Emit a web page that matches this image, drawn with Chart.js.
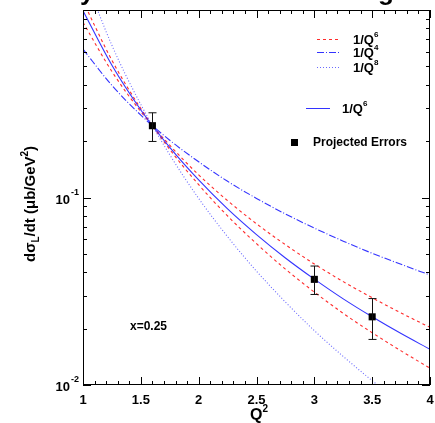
<!DOCTYPE html>
<html>
<head>
<meta charset="utf-8">
<script src="https://cdn.jsdelivr.net/npm/chart.js@4.4.1/dist/chart.umd.min.js"></script>
<style>
  html, body { margin: 0; padding: 0; background: #fff; overflow: hidden; }
  canvas { display: block; }
</style>
</head>
<body>
<canvas id="c" width="435" height="423"></canvas>
<script>
const q2 = [1, 1.25, 1.5, 1.75, 2, 2.25, 2.5, 2.75, 3, 3.25, 3.5, 3.75, 4]
const fitQ6 = [0.99, 0.507, 0.293, 0.185, 0.124, 0.0869, 0.0634, 0.0476, 0.0367, 0.0288, 0.0231, 0.0188, 0.0155]
const bandUp = [0.859, 0.470, 0.287, 0.190, 0.132, 0.0962, 0.0724, 0.0560, 0.0442, 0.0356, 0.0292, 0.0242, 0.0203]
const bandDown = [1.113, 0.539, 0.298, 0.1805, 0.117, 0.0797, 0.0567, 0.0415, 0.0313, 0.0241, 0.0190, 0.0152, 0.0123]
const curveQ4 = [0.618, 0.396, 0.275, 0.202, 0.155, 0.122, 0.0989, 0.0817, 0.0687, 0.0585, 0.0504, 0.0440, 0.0386]
const curveQ8 = [1.583, 0.648, 0.313, 0.169, 0.0989, 0.0618, 0.0405, 0.0277, 0.0195, 0.0142, 0.01055, 0.0080, 0.0062]

// projected points
const ptQ2 = [1.6, 3.0, 3.5]
const ptVal = [0.2415, 0.0366, 0.0231]
const ptLow = [0.199, 0.0304, 0.0175]
const ptHigh = [0.283, 0.0431, 0.0289]

const xTicks = [1, 1.5, 2, 2.5, 3, 3.5, 4]
const xTickLabels = ['1', '1.5', '2', '2.5', '3', '3.5', '4']
const yTicks = [0.01, 0.1]
const yTickExp = ['-2', '-1']

const FONT = "'Liberation Sans', Arial, sans-serif"
const RED = 'rgba(255,20,20,0.9)'
const BLUE = 'rgba(40,40,255,0.95)'
const BLUE_LIGHT = 'rgba(80,80,255,0.85)'

function pts(ys) {
    return q2.map((x, i) => ({ x: x, y: ys[i] }))
}

function runs(ctx, x, y, parts) {
    for (const p of parts) {
        ctx.font = 'bold ' + p.s + 'px ' + FONT
        ctx.fillText(p.t, x, y + (p.dy || 0))
        x += ctx.measureText(p.t).width
    }
}

const decor = {
    id: 'decor',
    afterDatasetsDraw(chart) {
        const ctx = chart.ctx
        const a = chart.chartArea
        const xs = chart.scales.x
        const ys = chart.scales.y
        ctx.save()

        // error bars
        ctx.strokeStyle = '#111'
        ctx.lineWidth = 1
        for (let i = 0; i < ptQ2.length; i++) {
            const px = Math.round(xs.getPixelForValue(ptQ2[i])) + 0.5
            const y1 = ys.getPixelForValue(ptLow[i])
            const y2 = ys.getPixelForValue(ptHigh[i])
            ctx.beginPath()
            ctx.moveTo(px, y1); ctx.lineTo(px, y2)
            ctx.moveTo(px - 4, y1); ctx.lineTo(px + 4, y1)
            ctx.moveTo(px - 4, y2); ctx.lineTo(px + 4, y2)
            ctx.stroke()
        }

        // frame
        ctx.strokeStyle = '#000'
        ctx.strokeRect(a.left + 0.5, a.top + 0.5, a.right - a.left - 1, a.bottom - a.top - 1)

        // x ticks (inside, top and bottom)
        ctx.beginPath()
        for (let v = 10; v <= 40; v++) {
            const px = Math.round(xs.getPixelForValue(v / 10)) + 0.5
            const len = v % 5 === 0 ? 8 : 4
            ctx.moveTo(px, a.bottom); ctx.lineTo(px, a.bottom - len)
            ctx.moveTo(px, a.top); ctx.lineTo(px, a.top + len)
        }
        // y ticks (log, inside, left and right)
        for (const dec of [0.01, 0.1]) {
            for (let k = 1; k <= 10; k++) {
                const py = Math.round(ys.getPixelForValue(dec * k)) + 0.5
                const len = (k === 1 || k === 10) ? 8 : 4
                ctx.moveTo(a.left, py); ctx.lineTo(a.left + len, py)
                ctx.moveTo(a.right, py); ctx.lineTo(a.right - len, py)
            }
        }
        ctx.stroke()

        ctx.fillStyle = '#000'
        ctx.textBaseline = 'alphabetic'

        // title, only its descenders show above the frame
        ctx.font = 'bold 26px ' + FONT
        ctx.textAlign = 'left'
        ctx.fillText('y', 80, 0)
        ctx.fillText('g', 378, 0)

        // x tick labels
        ctx.font = 'bold 13px ' + FONT
        ctx.textAlign = 'center'
        xTicks.forEach((v, i) => {
            ctx.fillText(xTickLabels[i], xs.getPixelForValue(v), 404)
        })
        // x title Q^2
        ctx.textAlign = 'left'
        runs(ctx, 250, 420, [{ t: 'Q', s: 16 }, { t: '2', s: 10, dy: -8 }])

        // y tick labels 10^-n
        yTicks.forEach((v, i) => {
            const py = ys.getPixelForValue(v)
            ctx.textAlign = 'right'
            ctx.font = 'bold 13px ' + FONT
            ctx.fillText('10', 70, py + 6)
            ctx.textAlign = 'left'
            ctx.font = 'bold 9px ' + FONT
            ctx.fillText(yTickExp[i], 71, py - 3)
        })

        // y title
        ctx.save()
        ctx.translate(35, 202)
        ctx.rotate(-Math.PI / 2)
        ctx.textAlign = 'left'
        runs(ctx, -60, 0, [
            { t: 'dσ', s: 15 }, { t: 'L', s: 10, dy: 4 },
            { t: '/dt (μb/GeV', s: 15 }, { t: '2', s: 10, dy: -7 }, { t: ')', s: 15 }
        ])
        ctx.restore()

        // legend
        ctx.textAlign = 'left'
        const leg = [
            { y: 39, col: RED, dash: [3, 3], p: '6' },
            { y: 52, col: BLUE, dash: [7, 2, 1, 2], p: '4' },
            { y: 67, col: BLUE_LIGHT, dash: [1, 2], p: '8' }
        ]
        for (const l of leg) {
            ctx.strokeStyle = l.col
            ctx.setLineDash(l.dash)
            ctx.beginPath(); ctx.moveTo(317, l.y + 0.5); ctx.lineTo(341, l.y + 0.5); ctx.stroke()
            ctx.setLineDash([])
            runs(ctx, 353, l.y + 5, [{ t: '1/Q', s: 13 }, { t: l.p, s: 8, dy: -7 }])
        }
        ctx.strokeStyle = BLUE
        ctx.beginPath(); ctx.moveTo(306, 108.5); ctx.lineTo(330, 108.5); ctx.stroke()
        runs(ctx, 342, 113, [{ t: '1/Q', s: 13 }, { t: '6', s: 8, dy: -7 }])
        ctx.fillRect(291, 139, 7, 7)
        ctx.font = 'bold 12px ' + FONT
        ctx.fillText('Projected Errors', 313, 146)

        // kinematics label
        ctx.fillText('x=0.25', 130, 330)

        ctx.restore()
    }
}

new Chart(document.getElementById('c'), {
    type: 'line',
    data: {
        datasets: [
            { data: ptQ2.map((x, i) => ({ x: x, y: ptVal[i] })), showLine: false, pointStyle: 'rect',
              pointRadius: 5, pointBorderWidth: 0, backgroundColor: '#000', borderColor: '#000', order: 0 },
            { data: pts(fitQ6), borderColor: BLUE, borderWidth: 1.1, pointRadius: 0, cubicInterpolationMode: 'monotone', order: 1 },
            { data: pts(bandUp), borderColor: RED, borderWidth: 1.1, borderDash: [3, 3], pointRadius: 0, cubicInterpolationMode: 'monotone', order: 2 },
            { data: pts(bandDown), borderColor: RED, borderWidth: 1.1, borderDash: [3, 3], pointRadius: 0, cubicInterpolationMode: 'monotone', order: 3 },
            { data: pts(curveQ4), borderColor: BLUE, borderWidth: 1.1, borderDash: [7, 2, 1, 2], pointRadius: 0, cubicInterpolationMode: 'monotone', order: 4 },
            { data: pts(curveQ8), borderColor: BLUE_LIGHT, borderWidth: 1.1, borderDash: [1, 2], pointRadius: 0, cubicInterpolationMode: 'monotone', order: 5 }
        ]
    },
    options: {
        responsive: false,
        animation: false,
        layout: { padding: { left: 83, right: 1, top: 10, bottom: 38 } },
        scales: {
            x: { type: 'linear', min: 1, max: 4, display: false },
            y: { type: 'logarithmic', min: 0.01, max: 1, display: false }
        },
        plugins: {
            legend: { display: false },
            tooltip: { enabled: false }
        }
    },
    plugins: [decor]
})
</script>
</body>
</html>
